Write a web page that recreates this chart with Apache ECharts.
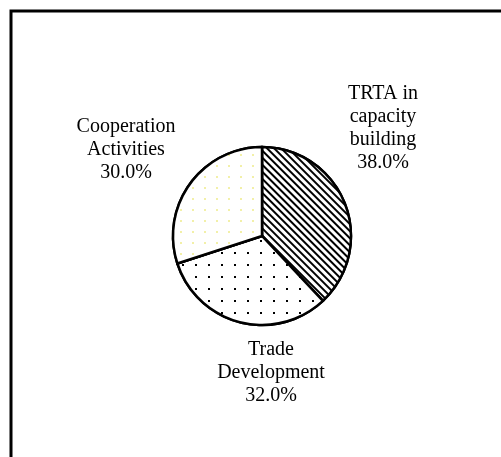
<!DOCTYPE html>
<html>
<head>
<meta charset="utf-8">
<script src="https://cdn.jsdelivr.net/npm/echarts@6/dist/echarts.min.js"></script>
<style>
html,body{margin:0;padding:0;background:#fff;}
#chart{width:501px;height:457px;}
</style>
</head>
<body>
<div id="chart"></div>
<script>
// Data
const categories = ["TRTA in\ncapacity\nbuilding", "Trade\nDevelopment", "Cooperation\nActivities"];
const shares = [38.0, 32.0, 30.0];

const chart = echarts.init(document.getElementById('chart'), null, {renderer: 'canvas'});

const decals = [
  {symbol: 'rect', symbolSize: 1, dashArrayX: [1, 0], dashArrayY: [1.2, 2.4], rotation: Math.PI / 4, color: '#000', backgroundColor: '#fff'},
  {symbol: 'rect', symbolSize: 1, dashArrayX: [1.5, 10.5], dashArrayY: [1.5, 9.5], color: '#000', backgroundColor: '#fff'},
  {symbol: 'rect', symbolSize: 1, dashArrayX: [1.5, 9.5], dashArrayY: [1.5, 9], color: '#f2f0a8', backgroundColor: '#fff'}
];
const labelPos = [[383, 128], [271, 373], [126, 150]];

chart.setOption({
  animation: false,
  backgroundColor: '#fff',
  graphic: [{
    type: 'rect',
    shape: {x: 11, y: 11, width: 700, height: 700},
    style: {fill: 'none', stroke: '#000', lineWidth: 3},
    silent: true
  }],
  series: [{
    type: 'pie',
    center: [262, 236],
    radius: 89,
    startAngle: 90,
    clockwise: true,
    silent: true,
    itemStyle: {color: '#fff', borderColor: '#000', borderWidth: 2.5},
    label: {
      show: true,
      position: 'outside',
      fontFamily: 'Liberation Serif',
      fontSize: 20,
      lineHeight: 23,
      color: '#000',
      align: 'center',
      formatter: p => p.name + '\n' + p.value.toFixed(1) + '%'
    },
    labelLine: {show: false},
    labelLayout: p => ({x: labelPos[p.dataIndex][0], y: labelPos[p.dataIndex][1], align: 'center', verticalAlign: 'middle'}),
    data: categories.map((c, i) => ({name: c, value: shares[i], itemStyle: {decal: decals[i]}}))
  }]
});
</script>
</body>
</html>
